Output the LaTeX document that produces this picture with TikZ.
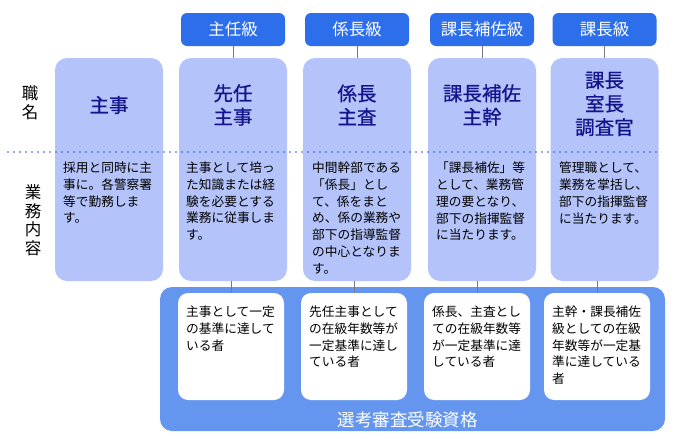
\documentclass[tikz,border=0pt]{standalone}
\usepackage{fontspec}
\setmainfont{Noto Sans CJK JP}
\newfontfamily\namefont[FakeBold=0.8]{Noto Sans CJK JP}
\usetikzlibrary{positioning}
\definecolor{gradeblue}{RGB}{45,110,235}
\definecolor{postfill}{RGB}{180,195,250}
\definecolor{examblue}{RGB}{100,150,240}
\definecolor{titlenavy}{RGB}{20,20,140}
\definecolor{dotblue}{RGB}{50,80,230}
\definecolor{linkgray}{RGB}{120,120,140}

\begin{document}
\begin{tikzpicture}[
    x=1pt, y=-1pt,
    grade/.style={
        rectangle, rounded corners=6pt, fill=gradeblue, text=white,
        minimum width=104pt, minimum height=33pt,
        font=\fontsize{16.5}{18}\selectfont
    },
    post/.style={
        rectangle, rounded corners=12pt, fill=postfill,
        minimum width=108pt, minimum height=223pt
    },
    title/.style={align=center, text=titlenavy, font=\namefont\fontsize{19.5}{23.5}\selectfont},
    duty/.style={anchor=north west, inner sep=0pt, align=left, font=\fontsize{12.7}{16.7}\selectfont},
    exam/.style={rectangle, rounded corners=12pt, fill=examblue, minimum width=505pt, minimum height=144pt},
    qual/.style={rectangle, rounded corners=10pt, fill=white, minimum width=106pt, minimum height=107pt},
    head/.style={align=center, inner sep=0pt, font=\fontsize{16.5}{18.5}\selectfont},
    link/.style={draw=linkgray, line width=0.8pt},
    dotline/.style={draw=dotblue, line width=1.8pt, line cap=round, dash pattern=on 0pt off 6pt}
]
\useasboundingbox (0,0) rectangle (681,439);

% column boxes
\node[post] (post1) at (109,169.5) {};
\node[post] (post2) at (233,169.5) {};
\node[post] (post3) at (357,169.5) {};
\node[post] (post4) at (482,169.5) {};
\node[post] (post5) at (604.5,169.5) {};

% grades
\node[grade] (grade2) at (233,29.5) {主任級};
\node[grade] (grade3) at (357,29.5) {係長級};
\node[grade] (grade4) at (482,29.5) {課長補佐級};
\node[grade] (grade5) at (604.5,29.5) {課長級};

\draw[link] (grade2) -- (post2);
\draw[link] (grade3) -- (post3);
\draw[link] (grade4) -- (post4);
\draw[link] (grade5) -- (post5);

% row separator
\coordinate (sepL) at (8,152);
\coordinate (sepR) at (660,152);
\draw[dotline] (sepL) -- (sepR);

% row headings
\node[head] (lblname) at (30,103) {職\\名};
\node[head] (lblduty) at (33,220) {業\\務\\内\\容};

% titles
\node[title] (name1) at (109,105) {主事};
\node[title] (name2) at (233,105) {先任\\主事};
\node[title] (name3) at (357,105) {係長\\主査};
\node[title] (name4) at (482,105) {課長補佐\\主幹};
\node[title] (name5) at (604.5,104) {課長\\室長\\調査官};

% duties
\node[duty] (duty1) at (63,162) {採用と同時に主\\事に。各警察署\\等で勤務しま\\す。};
\node[duty] (duty2) at (186,162) {主事として培っ\\た知識または経\\験を必要とする\\業務に従事しま\\す。};
\node[duty] (duty3) at (312,162) {中間幹部である\\「係長」とし\\て、係をまと\\め、係の業務や\\部下の指導監督\\の中心となりま\\す。};
\node[duty] (duty4) at (436,162) {「課長補佐」等\\として、業務管\\理の要となり、\\部下の指揮監督\\に当たります。};
\node[duty] (duty5) at (559,162) {管理職として、\\業務を掌括し、\\部下の指揮監督\\に当たります。};

% qualification
\node[exam] (exam) at (412.5,359) {};
\node[text=white, font=\fontsize{17.5}{18}\selectfont] (examlbl) at (407.5,420) {選考審査受験資格};

\node[qual] (qual2) at (231,346.5) {};
\node[qual] (qual3) at (354,346.5) {};
\node[qual] (qual4) at (477,346.5) {};
\node[qual] (qual5) at (597,346.5) {};

\draw[link] (qual2.north) -- (qual2.north |- post2.south);
\draw[link] (qual3.north) -- (qual3.north |- post3.south);
\draw[link] (qual4.north) -- (qual4.north |- post4.south);
\draw[link] (qual5.north) -- (qual5.north |- post5.south);

\node[duty] (req2) at (186,306) {主事として一定\\の基準に達して\\いる者};
\node[duty] (req3) at (309,306) {先任主事として\\の在級年数等が\\一定基準に達し\\ている者};
\node[duty] (req4) at (432,306) {係長、主査とし\\ての在級年数等\\が一定基準に達\\している者};
\node[duty] (req5) at (552,306) {主幹・課長補佐\\級としての在級\\年数等が一定基\\準に達している\\者};
\end{tikzpicture}
\end{document}
